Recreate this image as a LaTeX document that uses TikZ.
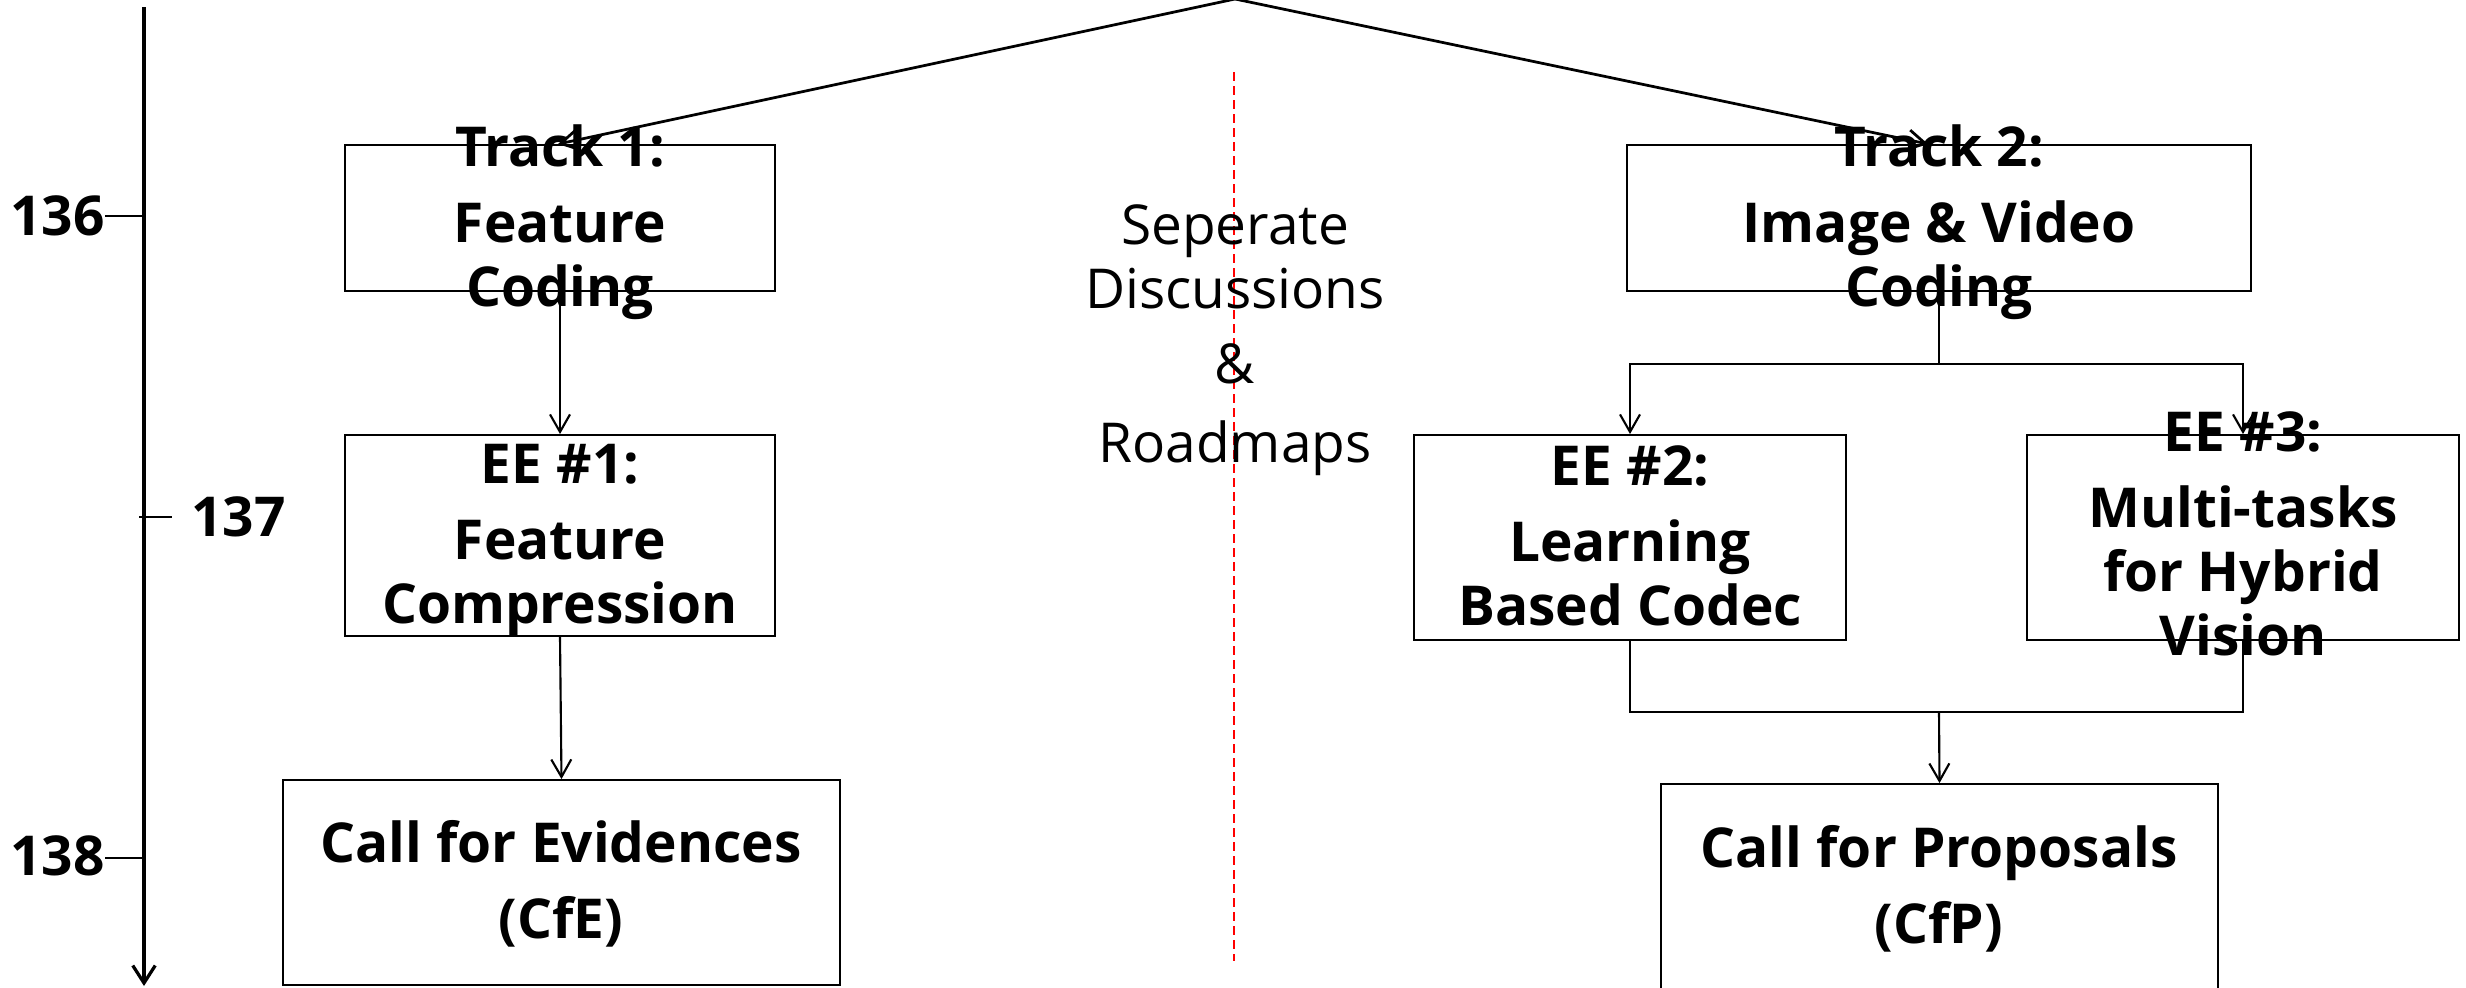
\documentclass[tikz,border=0pt]{standalone}
\usepackage{fontspec}
\setmainfont{Open Sans}
\usetikzlibrary{arrows.meta}
\begin{document}
\begin{tikzpicture}[x=0.4pt,y=-0.4pt,
  box/.style 2 args={draw, line width=0.75pt, inner sep=0pt,
    minimum width=#1*0.4pt, minimum height=#2*0.4pt},
  lbl/.style={font=\bfseries\fontsize{22}{25.6}\selectfont, align=center,
    inner sep=0pt, anchor=base},
  note/.style={font=\fontsize{22}{25.6}\selectfont, align=center,
    inner sep=0pt, anchor=base},
  tick/.style={font=\bfseries\fontsize{22}{25.6}\selectfont, inner sep=0pt},
  conn/.style={line width=0.85pt},
  arr/.style={conn, -{Straight Barb[length=7pt,width=8pt]}},
  apexline/.style={line width=1.1pt, -{Straight Barb[length=7pt,width=8pt]}},
  axis/.style={line width=1.3pt, -{Straight Barb[length=7pt,width=9pt]}},
  ticklen/.style={line width=1.1pt},
  divider/.style={red, line width=0.8pt, dash pattern=on 3.6pt off 2pt}]

\useasboundingbox (0,0) rectangle (2466,987);

% time axis with meeting numbers
\coordinate (tltop) at (144,7);
\coordinate (tlbot) at (144,986);
\draw[axis] (tltop) -- (tlbot);
\node[tick, anchor=base east] (m136) at (105,235) {136};
\node[tick, anchor=base west] (m137) at (191,536) {137};
\node[tick, anchor=base east] (m138) at (105,875) {138};
\draw[ticklen] (105,216) -- (144,216);
\draw[ticklen] (139,517) -- (172,517);
\draw[ticklen] (105,858) -- (144,858);

% boxes
\node[box={430}{146}] (t1)  at (560,218) {};
\node[box={624}{146}] (t2)  at (1939,218) {};
\node[box={430}{201}] (ee1) at (560,535.5) {};
\node[box={432}{205}] (ee2) at (1630,537.5) {};
\node[box={432}{205}] (ee3) at (2243,537.5) {};
\node[box={557}{205}] (cfe) at (561.5,882.5) {};
\node[box={557}{212}] (cfp) at (1939.5,890) {};

% dividing line between the two tracks
\coordinate (divtop) at (1234,72);
\coordinate (divbot) at (1234,961);
\draw[divider] (divtop) -- (divbot);

% connectors
\coordinate (apex) at (1235,-1);
\draw[apexline] (apex) -- ([xshift=-0.8pt]t1.north);
\draw[apexline] (apex) -- ([xshift=-4.4pt]t2.north);
\draw[arr] (t1.south) -- (ee1.north);
\draw[arr] (ee1.south) -- (cfe.north);
\draw[conn] (t2.south) -- ++(0,72) coordinate (split);
\draw[arr] (split) -| (ee2.north);
\draw[arr] (split) -| (ee3.north);
\coordinate (join) at (1939,712);
\draw[conn] (ee2.south) |- (join) -| (ee3.south);
\draw[arr] (join) -- (cfp.north);

% labels (placed by the baseline of their last line)
\node[lbl] (t1txt)  at (560,306)  {Track 1:\\[4.8pt]Feature\\Coding};
\node[lbl] (t2txt)  at (1939,306) {Track 2:\\[4.8pt]Image \& Video\\Coding};
\node[lbl] (ee1txt) at (560,623)  {EE \#1:\\[4.8pt]Feature\\Compression};
\node[lbl] (ee2txt) at (1630,625) {EE \#2:\\[4.8pt]Learning\\Based Codec};
\node[lbl] (ee3txt) at (2243,655) {EE \#3:\\[4.8pt]Multi-tasks\\for Hybrid\\Vision};
\node[lbl] (cfetxt) at (561,938)  {Call for Evidences\\[4.8pt](CfE)};
\node[lbl] (cfptxt) at (1939,943) {Call for Proposals\\[4.8pt](CfP)};
\node[note] (sep) at (1235,462) {Seperate\\Discussions\\[4.4pt]\&\\[6pt]Roadmaps};

\end{tikzpicture}
\end{document}
